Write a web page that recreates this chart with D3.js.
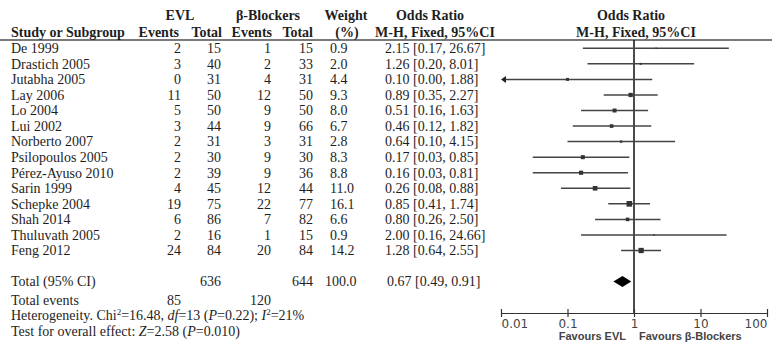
<!DOCTYPE html>
<html>
<head>
<meta charset="utf-8">
<script src="https://cdn.jsdelivr.net/npm/d3@7"></script>
<style>
  html, body { margin: 0; padding: 0; background: #fff; }
  svg { display: block; }
</style>
</head>
<body>
<svg id="chart" width="772" height="348"></svg>
<script>
// ---------- data ----------
const studies = ["De 1999", "Drastich 2005", "Jutabha 2005", "Lay 2006", "Lo 2004", "Lui 2002",
  "Norberto 2007", "Psilopoulos 2005", "Pérez-Ayuso 2010", "Sarin 1999", "Schepke 2004",
  "Shah 2014", "Thuluvath 2005", "Feng 2012"];
const evlEvents = [2, 3, 0, 11, 5, 3, 2, 2, 2, 4, 19, 6, 2, 24];
const evlTotal = [15, 40, 31, 50, 50, 44, 31, 30, 39, 45, 75, 86, 16, 84];
const bbEvents = [1, 2, 4, 12, 9, 9, 3, 9, 9, 12, 22, 7, 1, 20];
const bbTotal = [15, 33, 31, 50, 50, 66, 31, 30, 36, 44, 77, 82, 15, 84];
const weights = [0.9, 2.0, 4.4, 9.3, 8.0, 6.7, 2.8, 8.3, 8.8, 11.0, 16.1, 6.6, 0.9, 14.2];
const orValue = [2.15, 1.26, 0.10, 0.89, 0.51, 0.46, 0.64, 0.17, 0.16, 0.26, 0.85, 0.80, 2.00, 1.28];
const orLower = [0.17, 0.20, 0.00, 0.35, 0.16, 0.12, 0.10, 0.03, 0.03, 0.08, 0.41, 0.26, 0.16, 0.64];
const orUpper = [26.67, 8.01, 1.88, 2.27, 1.63, 1.82, 4.15, 0.85, 0.81, 0.88, 1.74, 2.50, 24.66, 2.55];
const totalLabel = "Total (95% CI)";
const totalEVL = 636, totalBB = 644, totalWeight = 100.0;
const pooled = { or: 0.67, lower: 0.49, upper: 0.91 };
const eventsEVL = 85, eventsBB = 120;
const tickValues = [0.01, 0.1, 1, 10, 100];
const tickLabels = ["0.01", "0.1", "1", "10", "100"];
const favoursLeft = "Favours EVL", favoursRight = "Favours β-Blockers";

// ---------- layout ----------
const svg = d3.select("#chart");
const serif = "'Liberation Serif', 'Times New Roman', serif";
const sans = "'DejaVu Sans', sans-serif";
const textCol = "#1e1e1e";

const x = d3.scaleLog().domain([0.01, 100]).range([501, 767]);
const y = d3.scaleLinear().domain([0, 15]).range([48.3, 281.6]);
const fmt2 = d3.format(".2f"), fmt1 = d3.format(".1f");
const orText = (o, l, u) => `${fmt2(o)} [${fmt2(l)}, ${fmt2(u)}]`;

// header line
svg.append("line").attr("x1", 0).attr("x2", 772).attr("y1", 40).attr("y2", 40)
  .attr("stroke", "#7a7a7a").attr("stroke-width", 2);

// header texts
const hdr = svg.append("g").attr("font-family", serif).attr("font-weight", "bold")
  .attr("font-size", 14).attr("fill", textCol);
const H1 = 20, H2 = 36.5;
[
  ["EVL", 180, H1, "middle"],
  ["β-Blockers", 268, H1, "middle"],
  ["Weight", 346, H1, "middle"],
  ["Odds Ratio", 430, H1, "middle"],
  ["Odds Ratio", 631, H1, "middle"],
  ["Study or Subgroup", 11, H2, "start"],
  ["Events", 179, H2, "end"],
  ["Total", 222, H2, "end"],
  ["Events", 272, H2, "end"],
  ["Total", 313, H2, "end"],
  ["(%)", 347, H2, "middle"],
  ["M-H, Fixed, 95%CI", 435, H2, "middle"],
  ["M-H, Fixed, 95%CI", 636, H2, "middle"]
].forEach(([t, xx, yy, a]) => hdr.append("text").attr("x", xx).attr("y", yy)
  .attr("text-anchor", a).text(t));

// table rows
const tbl = svg.append("g").attr("font-family", serif).attr("font-size", 14).attr("fill", textCol);
const base = 4.8;
studies.forEach((s, i) => {
  const yy = y(i) + base;
  tbl.append("text").attr("x", 11).attr("y", yy).text(s);
  tbl.append("text").attr("x", 181).attr("y", yy).attr("text-anchor", "end").text(evlEvents[i]);
  tbl.append("text").attr("x", 221).attr("y", yy).attr("text-anchor", "end").text(evlTotal[i]);
  tbl.append("text").attr("x", 271).attr("y", yy).attr("text-anchor", "end").text(bbEvents[i]);
  tbl.append("text").attr("x", 313).attr("y", yy).attr("text-anchor", "end").text(bbTotal[i]);
  tbl.append("text").attr("x", 330).attr("y", yy).text(fmt1(weights[i]));
  tbl.append("text").attr("x", 385).attr("y", yy).text(orText(orValue[i], orLower[i], orUpper[i]));
});

// total row
const ty = y(15) + base;
tbl.append("text").attr("x", 11).attr("y", ty).text(totalLabel);
tbl.append("text").attr("x", 221).attr("y", ty).attr("text-anchor", "end").text(totalEVL);
tbl.append("text").attr("x", 313).attr("y", ty).attr("text-anchor", "end").text(totalBB);
tbl.append("text").attr("x", 325).attr("y", ty).text(fmt1(totalWeight));
tbl.append("text").attr("x", 387).attr("y", ty).text(orText(pooled.or, pooled.lower, pooled.upper));

// total events
const ey = 300 + base;
tbl.append("text").attr("x", 11).attr("y", ey).text("Total events");
tbl.append("text").attr("x", 181).attr("y", ey).attr("text-anchor", "end").text(eventsEVL);
tbl.append("text").attr("x", 271).attr("y", ey).attr("text-anchor", "end").text(eventsBB);

// heterogeneity
const het = tbl.append("text").attr("x", 11).attr("y", 315.5 + base);
het.append("tspan").text("Heterogeneity. Chi");
het.append("tspan").attr("font-size", 9).attr("dy", -5).text("2");
het.append("tspan").attr("dy", 5).text("=16.48, ");
het.append("tspan").attr("font-style", "italic").text("df");
het.append("tspan").text("=13 (");
het.append("tspan").attr("font-style", "italic").text("P");
het.append("tspan").text("=0.22); ");
het.append("tspan").attr("font-style", "italic").text("I");
het.append("tspan").attr("font-size", 9).attr("dy", -5).text("2");
het.append("tspan").attr("dy", 5).text("=21%");

const tst = tbl.append("text").attr("x", 11).attr("y", 331 + base);
tst.append("tspan").text("Test for overall effect: ");
tst.append("tspan").attr("font-style", "italic").text("Z");
tst.append("tspan").text("=2.58 (");
tst.append("tspan").attr("font-style", "italic").text("P");
tst.append("tspan").text("=0.010)");

// ---------- forest plot ----------
const plot = svg.append("g");
const axisY = 313;

// line of no effect
plot.append("line").attr("x1", x(1)).attr("x2", x(1)).attr("y1", 40).attr("y2", axisY)
  .attr("stroke", "#111").attr("stroke-width", 1.5);

const [dMin, dMax] = x.domain();
studies.forEach((s, i) => {
  const yy = y(i);
  const lo = Math.max(orLower[i], dMin), hi = Math.min(orUpper[i], dMax);
  const clippedLo = orLower[i] < dMin;
  plot.append("line").attr("x1", x(lo) + (clippedLo ? 3 : 0)).attr("x2", x(hi))
    .attr("y1", yy).attr("y2", yy).attr("stroke", "#444").attr("stroke-width", 1.5);
  if (clippedLo) {
    const ax = x(dMin);
    plot.append("path").attr("d", `M${ax},${yy} L${ax + 5},${yy - 3.5} L${ax + 5},${yy + 3.5} Z`)
      .attr("fill", "#222");
  }
  const side = Math.max(1.5, Math.sqrt(weights[i]) * 1.4);
  plot.append("rect").attr("x", x(orValue[i]) - side / 2).attr("y", yy - side / 2)
    .attr("width", side).attr("height", side).attr("fill", "#333");
});

// pooled diamond
const dy0 = y(15);
plot.append("path")
  .attr("d", `M${x(pooled.lower)},${dy0} L${x(pooled.or)},${dy0 - 5.5} L${x(pooled.upper)},${dy0} L${x(pooled.or)},${dy0 + 5.5} Z`)
  .attr("fill", "#000");

// axis
const axis = d3.axisBottom(x).tickValues(tickValues)
  .tickFormat((d, i) => tickLabels[i]).tickSize(4).tickSizeOuter(0);
const ag = svg.append("g").attr("transform", `translate(0,${axisY})`).call(axis);
ag.select(".domain").attr("stroke", "#333").attr("stroke-width", 1.2);
ag.selectAll(".tick line").attr("y1", -4).attr("y2", 4).attr("stroke", "#333").attr("stroke-width", 1.2);
ag.selectAll(".tick text").attr("font-family", sans).attr("font-size", 12).attr("fill", "#444")
  .attr("y", 6).attr("dy", "0.71em")
  .attr("text-anchor", (d, i) => i === 0 ? "start" : (i === tickValues.length - 1 ? "end" : "middle"));

svg.append("text").attr("x", x(1) - 8).attr("y", 340).attr("text-anchor", "end")
  .attr("font-family", "'Liberation Sans', Arial, sans-serif").attr("font-weight", "bold")
  .attr("font-size", 11).attr("fill", "#444").text(favoursLeft);
svg.append("text").attr("x", x(1) + 5).attr("y", 340).attr("text-anchor", "start")
  .attr("font-family", "'Liberation Sans', Arial, sans-serif").attr("font-weight", "bold")
  .attr("font-size", 11).attr("fill", "#444").text(favoursRight);
</script>
</body>
</html>
